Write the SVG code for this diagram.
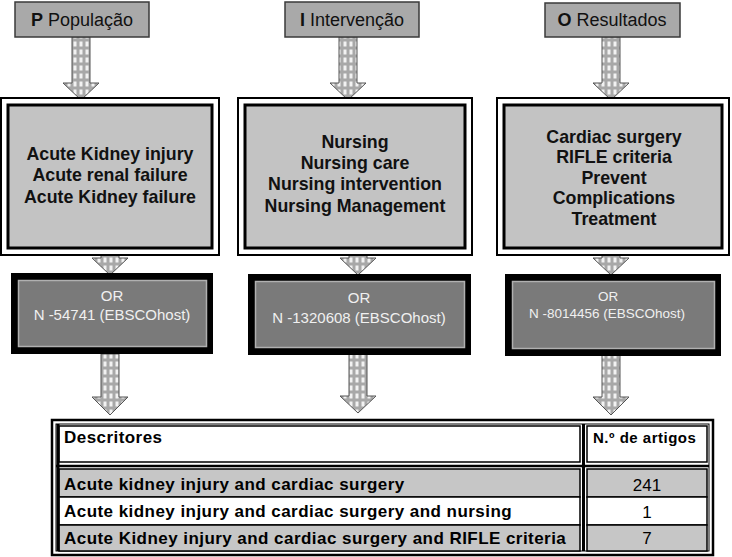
<svg xmlns="http://www.w3.org/2000/svg" width="732" height="557" viewBox="0 0 732 557">
<defs>
<pattern id="chk" x="0" y="0" width="6" height="8" patternUnits="userSpaceOnUse">
<rect width="6" height="8" fill="#a8a8a8"/>
<rect x="1.5" y="1.5" width="3" height="5" fill="#f2f2f2"/>
</pattern>
<style>
text{font-family:"Liberation Sans",Arial,sans-serif}
.lbl{fill:#a9a9a9;stroke:#3a3a3a;stroke-width:1.5}
.lt{font-size:18px;fill:#111;text-anchor:middle}
.arr{fill:url(#chk);stroke:#555;stroke-width:1}
.bo{fill:#fff;stroke:#000;stroke-width:2}
.bi{fill:#c3c3c3;stroke:#000;stroke-width:3}
.bt{font-size:17.8px;font-weight:bold;fill:#111;text-anchor:middle}
.oo{fill:#000}
.oi{fill:#7a7a7a;stroke:#b0b0b0;stroke-width:1.5}
.ot{font-size:15px;fill:#f0f0f0;text-anchor:middle}
.ot2{font-size:13.5px;fill:#f0f0f0;text-anchor:middle}
.th{font-size:17px;font-weight:bold;fill:#000;letter-spacing:0.45px}
.th2{font-size:15px;font-weight:bold;fill:#000;letter-spacing:0.5px}
.tn{font-size:17px;fill:#000;text-anchor:middle}
.cg{fill:#c6c6c6;stroke:#000;stroke-width:1.5}
.cw{fill:#fff;stroke:#000;stroke-width:1.5}
</style>
</defs>

<g id="connectors">
<polygon class="arr" points="72,37 90,37 90,83 99,83 81,100 63,83 72,83"/>
<polygon class="arr" points="339,37 357,37 357,83 366,83 348,100 330,83 339,83"/>
<polygon class="arr" points="602,37 620,37 620,83 629,83 611,100 593,83 602,83"/>
<polygon class="arr" points="101,252 119,252 119,258 128,258 110,275 92,258 101,258"/>
<polygon class="arr" points="349,252 367,252 367,258 376,258 358,275 340,258 349,258"/>
<polygon class="arr" points="602,252 620,252 620,258 629,258 611,275 593,258 602,258"/>
<polygon class="arr" points="101,354 119,354 119,397 128,397 110,415 92,397 101,397"/>
<polygon class="arr" points="349,354 367,354 367,396 376,396 358,413 340,396 349,396"/>
<polygon class="arr" points="602,354 620,354 620,397 629,397 611,415 593,397 602,397"/>
</g>

<g id="label-p">
<rect class="lbl" x="15" y="2" width="134" height="35"/>
<text class="lt" x="82" y="26"><tspan font-weight="bold">P</tspan> População</text>
</g>
<g id="label-i">
<rect class="lbl" x="285" y="2" width="134" height="35"/>
<text class="lt" x="352" y="26"><tspan font-weight="bold">I</tspan> Intervenção</text>
</g>
<g id="label-o">
<rect class="lbl" x="545" y="3" width="135" height="34"/>
<text class="lt" x="612" y="26"><tspan font-weight="bold">O</tspan> Resultados</text>
</g>

<g id="box-p">
<rect class="bo" x="1" y="98" width="218" height="157"/>
<rect class="bi" x="8" y="105" width="204" height="143"/>
<text class="bt" x="110" y="160">Acute Kidney injury</text>
<text class="bt" x="110" y="181">Acute renal failure</text>
<text class="bt" x="110" y="203">Acute Kidney failure</text>
</g>
<g id="box-i">
<rect class="bo" x="238" y="98" width="234" height="157"/>
<rect class="bi" x="245" y="105" width="220" height="143"/>
<text class="bt" x="355" y="148">Nursing</text>
<text class="bt" x="355" y="169">Nursing care</text>
<text class="bt" x="355" y="190">Nursing intervention</text>
<text class="bt" x="355" y="212">Nursing Management</text>
</g>
<g id="box-o">
<rect class="bo" x="497" y="98" width="232" height="157"/>
<rect class="bi" x="504" y="105" width="218" height="143"/>
<text class="bt" x="614" y="143">Cardiac surgery</text>
<text class="bt" x="614" y="163">RIFLE criteria</text>
<text class="bt" x="614" y="184">Prevent</text>
<text class="bt" x="614" y="204">Complications</text>
<text class="bt" x="614" y="225">Treatment</text>
</g>

<g id="or-p">
<rect class="oo" x="11" y="273" width="202" height="81"/>
<rect class="oi" x="18.5" y="280.5" width="188" height="66"/>
<text class="ot" x="112" y="301">OR</text>
<text class="ot" x="112" y="320">N -54741 (EBSCOhost)</text>
</g>
<g id="or-i">
<rect class="oo" x="248" y="274" width="223" height="81"/>
<rect class="oi" x="255.5" y="281.5" width="209" height="66"/>
<text class="ot" x="359" y="303">OR</text>
<text class="ot" x="359" y="323">N -1320608 (EBSCOhost)</text>
</g>
<g id="or-o">
<rect class="oo" x="505" y="274" width="216" height="82"/>
<rect class="oi" x="512.5" y="281.5" width="202" height="67"/>
<text class="ot2" x="608" y="301">OR</text>
<text class="ot2" x="607" y="318">N -8014456 (EBSCOhost)</text>
</g>

<g id="table">
<rect x="52" y="420" width="661" height="135" fill="#fff" stroke="#000" stroke-width="2.5"/>
<rect x="56" y="424" width="653" height="127" fill="none" stroke="#000" stroke-width="1"/>
<rect class="cw" x="59" y="426" width="521" height="36"/>
<rect class="cw" x="587" y="426" width="120" height="36"/>
<line x1="56" y1="466" x2="709" y2="466" stroke="#000" stroke-width="2.5"/>
<line x1="583.5" y1="424" x2="583.5" y2="551" stroke="#000" stroke-width="3"/>
<rect class="cg" x="59" y="469" width="521" height="28"/>
<rect class="cg" x="587" y="469" width="120" height="28"/>
<rect class="cw" x="59" y="497" width="521" height="28"/>
<rect class="cw" x="587" y="497" width="120" height="28"/>
<rect class="cg" x="59" y="525" width="521" height="26"/>
<rect class="cg" x="587" y="525" width="120" height="26"/>
<line x1="58" y1="424" x2="58" y2="551" stroke="#000" stroke-width="3"/>
<text class="th" x="64" y="443">Descritores</text>
<text class="th2" x="593" y="443">N.º de artigos</text>
<text class="th" x="64" y="490">Acute kidney injury and cardiac surgery</text>
<text class="th" x="64" y="517">Acute kidney injury and cardiac surgery and nursing</text>
<text class="th" x="64" y="544">Acute Kidney injury and cardiac surgery and RIFLE criteria</text>
<text class="tn" x="647" y="491">241</text>
<text class="tn" x="647" y="518">1</text>
<text class="tn" x="647" y="544">7</text>
</g>
</svg>
